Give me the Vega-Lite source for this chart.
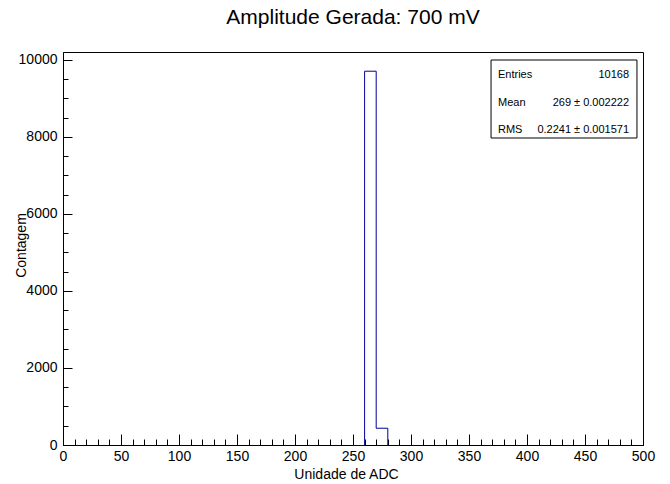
{
  "$schema": "https://vega.github.io/schema/vega-lite/v6.json",
  "width": 580,
  "height": 393,
  "autosize": {"type": "none"},
  "padding": {"left": 63, "top": 52, "right": 27, "bottom": 39},
  "background": "white",
  "title": {"text": "Amplitude Gerada: 700 mV", "fontSize": 21, "font": "Liberation Sans", "fontWeight": "normal", "color": "black", "anchor": "middle", "frame": "group", "offset": 24},
  "datasets": {
    "hist": [
      {"bin_start": 250, "bin_end": 260, "count": 0},
      {"bin_start": 260, "bin_end": 270, "count": 9720},
      {"bin_start": 270, "bin_end": 280, "count": 448},
      {"bin_start": 280, "bin_end": 290, "count": 0}
    ],
    "stats": [
      {"stat": "Entries", "value": "10168"},
      {"stat": "Mean", "value": "269 ± 0.002222"},
      {"stat": "RMS", "value": "0.2241 ± 0.001571"}
    ]
  },
  "layer": [
    {
      "data": {"name": "hist"},
      "mark": {"type": "point", "opacity": 0},
      "encoding": {
        "x": {"field": "bin_start", "type": "quantitative", "scale": {"domain": [0, 500], "nice": false, "zero": false},
          "axis": {"orient": "bottom", "values": [0,10,20,30,40,50,60,70,80,90,100,110,120,130,140,150,160,170,180,190,200,210,220,230,240,250,260,270,280,290,300,310,320,330,340,350,360,370,380,390,400,410,420,430,440,450,460,470,480,490,500], "tickSize": -6, "labels": false, "title": null, "domain": false}},
        "y": {"field": "count", "type": "quantitative", "scale": {"domain": [0, 10206], "nice": false, "zero": false},
          "axis": {"orient": "left", "values": [0,500,1000,1500,2000,2500,3000,3500,4000,4500,5000,5500,6000,6500,7000,7500,8000,8500,9000,9500,10000], "tickSize": -5, "labels": false, "title": null, "domain": false}}
      }
    },
    {
      "data": {"name": "hist"},
      "mark": {"type": "line", "interpolate": "step-after", "color": "#000099", "strokeWidth": 1, "yOffset": 0.5},
      "encoding": {
        "x": {"field": "bin_start", "type": "quantitative", "scale": {"domain": [0, 500], "nice": false, "zero": false},
          "axis": {"orient": "bottom", "values": [0,50,100,150,200,250,300,350,400,450,500], "tickSize": -11, "labelPadding": 15, "title": "Unidade de ADC", "titleBaseline": "alphabetic", "titleAlign": "center", "titleX": 283, "titleY": 33}},
        "y": {"field": "count", "type": "quantitative", "scale": {"domain": [0, 10206], "nice": false, "zero": false},
          "axis": {"orient": "left", "values": [0,2000,4000,6000,8000,10000], "format": "d", "tickSize": -9, "labelPadding": 15, "title": "Contagem", "titleAngle": -90, "titleX": -38, "titleY": 193, "titleAlign": "center", "titleBaseline": "alphabetic"}}
      }
    },
    {
      "data": {"values": [{}]},
      "mark": {"type": "rect", "fill": "white", "stroke": "black", "strokeWidth": 1},
      "encoding": {
        "x": {"datum": 369, "type": "quantitative", "axis": null},
        "x2": {"datum": 494.8},
        "y": {"datum": 9998, "type": "quantitative", "axis": null},
        "y2": {"datum": 7973}
      }
    },
    {
      "data": {"name": "stats"},
      "transform": [{"filter": "datum.stat === 'Entries'"}],
      "layer": [
        {"mark": {"type": "text", "align": "left", "baseline": "middle", "fontSize": 11, "font": "Liberation Sans", "color": "black"},
         "encoding": {"x": {"datum": 375, "type": "quantitative", "axis": null}, "y": {"datum": 9620, "type": "quantitative", "axis": null}, "text": {"field": "stat"}}},
        {"mark": {"type": "text", "align": "right", "baseline": "middle", "fontSize": 11, "font": "Liberation Sans", "color": "black"},
         "encoding": {"x": {"datum": 488, "type": "quantitative", "axis": null}, "y": {"datum": 9620, "type": "quantitative", "axis": null}, "text": {"field": "value"}}}
      ]
    },
    {
      "data": {"name": "stats"},
      "transform": [{"filter": "datum.stat === 'Mean'"}],
      "layer": [
        {"mark": {"type": "text", "align": "left", "baseline": "middle", "fontSize": 11, "font": "Liberation Sans", "color": "black"},
         "encoding": {"x": {"datum": 375, "type": "quantitative", "axis": null}, "y": {"datum": 8870, "type": "quantitative", "axis": null}, "text": {"field": "stat"}}},
        {"mark": {"type": "text", "align": "right", "baseline": "middle", "fontSize": 11, "font": "Liberation Sans", "color": "black"},
         "encoding": {"x": {"datum": 488, "type": "quantitative", "axis": null}, "y": {"datum": 8870, "type": "quantitative", "axis": null}, "text": {"field": "value"}}}
      ]
    },
    {
      "data": {"name": "stats"},
      "transform": [{"filter": "datum.stat === 'RMS'"}],
      "layer": [
        {"mark": {"type": "text", "align": "left", "baseline": "middle", "fontSize": 11, "font": "Liberation Sans", "color": "black"},
         "encoding": {"x": {"datum": 375, "type": "quantitative", "axis": null}, "y": {"datum": 8170, "type": "quantitative", "axis": null}, "text": {"field": "stat"}}},
        {"mark": {"type": "text", "align": "right", "baseline": "middle", "fontSize": 11, "font": "Liberation Sans", "color": "black"},
         "encoding": {"x": {"datum": 488, "type": "quantitative", "axis": null}, "y": {"datum": 8170, "type": "quantitative", "axis": null}, "text": {"field": "value"}}}
      ]
    }
  ],
  "resolve": {"axis": {"x": "independent", "y": "independent"}},
  "config": {
    "font": "Liberation Sans",
    "view": {"stroke": "black", "strokeWidth": 1},
    "axis": {"domainColor": "black", "domainWidth": 1, "tickColor": "black", "tickWidth": 1, "labelColor": "black", "labelFont": "Liberation Sans", "labelFontSize": 14, "titleFont": "Liberation Sans", "titleFontSize": 14, "titleFontWeight": "normal", "titleColor": "black", "grid": false, "zindex": 1, "labelFlush": false, "labelOverlap": false}
  }
}
